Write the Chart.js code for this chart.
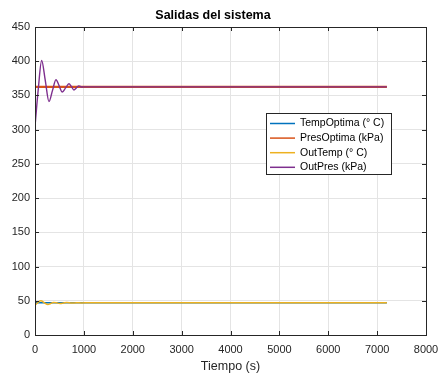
<!DOCTYPE html>
<html>
<head>
<meta charset="utf-8">
<style>
  body { margin: 0; background: #fff; }
</style>
</head>
<body>
<canvas id="myChart" width="440" height="377"></canvas>

<script src="https://cdn.jsdelivr.net/npm/chart.js"></script>
<script>
  // series data
  const seriesNames = ['TempOptima (° C)', 'PresOptima (kPa)', 'OutTemp (° C)', 'OutPres (kPa)'];
  const seriesColors = ['#0072BD', '#D95319', '#EDB120', '#7E2F8E'];

  const refTime = [0, 7200];
  const tempOptima = [47, 47];
  const presOptima = [362.5, 362.5];

  const outTempTime = [0, 60, 122, 190, 265, 320, 375, 440, 510, 580, 650, 750, 850, 950, 1100, 7200];
  const outTemp = [43.5, 47.5, 50, 47, 44.5, 46, 47.5, 47, 46, 46.6, 47.5, 46.6, 47.2, 46.9, 47, 47];

  const outPresTime = [0, 68, 136, 210, 286, 357, 429, 494, 558, 626, 694, 745, 796, 847, 898, 950, 1000, 7200];
  const outPres = [305, 360, 401, 372, 341, 357, 373, 364, 355, 361, 367, 363, 358, 361, 364, 362.3, 362.5, 362.5];

  const xTicks = [0, 1000, 2000, 3000, 4000, 5000, 6000, 7000, 8000];
  const yTicks = [0, 50, 100, 150, 200, 250, 300, 350, 400, 450];

  const FONT = '"Liberation Sans", Arial, Helvetica, sans-serif';
  const toPoints = (xs, ys) => xs.map((x, i) => ({ x: x, y: ys[i] }));

  const seriesData = [
    toPoints(refTime, tempOptima),
    toPoints(refTime, presOptima),
    toPoints(outTempTime, outTemp),
    toPoints(outPresTime, outPres)
  ];
  const lineWidths = [1.5, 2.2, 1.5, 1.4];
  const drawOrder = [3, 2, 1, 0]; // purple on top

  // MATLAB style box with inward ticks
  const boxPlugin = {
    id: 'axesBox',
    afterDraw(chart) {
      const { ctx, chartArea: a, scales } = chart;
      ctx.save();
      ctx.strokeStyle = '#262626';
      ctx.lineWidth = 1;
      ctx.strokeRect(Math.round(a.left) + 0.5, Math.round(a.top) + 0.5,
        Math.round(a.right - a.left), Math.round(a.bottom - a.top));
      ctx.beginPath();
      xTicks.forEach(v => {
        const px = Math.round(scales.x.getPixelForValue(v)) + 0.5;
        ctx.moveTo(px, a.bottom); ctx.lineTo(px, a.bottom - 4);
        ctx.moveTo(px, a.top); ctx.lineTo(px, a.top + 4);
      });
      yTicks.forEach(v => {
        const py = Math.round(scales.y.getPixelForValue(v)) + 0.5;
        ctx.moveTo(a.left, py); ctx.lineTo(a.left + 4, py);
        ctx.moveTo(a.right, py); ctx.lineTo(a.right - 4, py);
      });
      ctx.stroke();
      ctx.restore();
    }
  };

  // legend box inside the axes
  const legendPlugin = {
    id: 'insideLegend',
    afterDraw(chart) {
      const { ctx } = chart;
      const bx = 266, by = 113, bw = 125, bh = 61;
      ctx.save();
      ctx.fillStyle = '#fff';
      ctx.fillRect(bx, by, bw, bh);
      ctx.strokeStyle = '#262626';
      ctx.lineWidth = 1;
      ctx.strokeRect(bx + 0.5, by + 0.5, bw, bh);
      ctx.font = '10.5px ' + FONT;
      ctx.textBaseline = 'middle';
      ctx.fillStyle = '#000';
      seriesNames.forEach((name, i) => {
        const y = by + 10.5 + i * 14.6;
        ctx.strokeStyle = seriesColors[i];
        ctx.lineWidth = 1.5;
        ctx.beginPath();
        ctx.moveTo(270, y); ctx.lineTo(295, y);
        ctx.stroke();
        ctx.fillText(name, 300, y);
      });
      ctx.restore();
    }
  };

  const chart = new Chart(document.getElementById('myChart'), {
    type: 'line',
    data: {
      datasets: seriesNames.map((name, i) => ({
        label: name,
        data: seriesData[i],
        borderColor: seriesColors[i],
        backgroundColor: seriesColors[i],
        borderWidth: lineWidths[i],
        pointRadius: 0,
        fill: false,
        cubicInterpolationMode: 'monotone',
        order: drawOrder[i]
      }))
    },
    options: {
      responsive: false,
      animation: false,
      layout: { padding: { left: 0, right: 14, top: 0, bottom: 0 } },
      plugins: {
        legend: { display: false },
        tooltip: { enabled: false },
        title: {
          display: true,
          text: 'Salidas del sistema',
          color: '#000',
          font: { family: FONT, size: 12.5, weight: 'bold' },
          padding: { top: 8, bottom: 4 }
        }
      },
      scales: {
        x: {
          type: 'linear',
          min: 0,
          max: 8000,
          afterBuildTicks: s => { s.ticks = xTicks.map(v => ({ value: v })); },
          afterFit: s => { s.height = 42; s.paddingLeft = 0; s.paddingRight = 0; },
          grid: { color: '#e4e4e4', drawTicks: false },
          border: { display: false },
          ticks: {
            padding: 8,
            maxRotation: 0,
            color: '#262626',
            font: { family: FONT, size: 11 },
            callback: v => String(v)
          },
          title: {
            display: true,
            text: 'Tiempo (s)',
            color: '#262626',
            font: { family: FONT, size: 12.5 },
            padding: { top: 0, bottom: 3 }
          }
        },
        y: {
          min: 0,
          max: 450,
          afterBuildTicks: s => { s.ticks = yTicks.map(v => ({ value: v })); },
          afterFit: s => { s.width = 35; },
          grid: { color: '#e4e4e4', drawTicks: false },
          border: { display: false },
          ticks: {
            padding: 5,
            color: '#262626',
            font: { family: FONT, size: 11 },
            callback: v => String(v)
          }
        }
      }
    },
    plugins: [boxPlugin, legendPlugin]
  });
</script>
</body>
</html>
